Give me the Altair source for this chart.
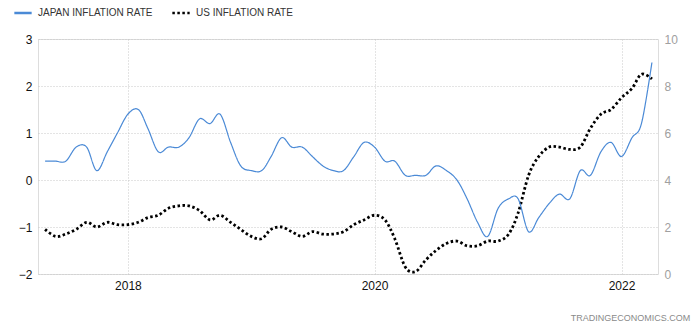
import altair as alt
import pandas as pd

series_names = ["JAPAN INFLATION RATE", "US INFLATION RATE"]
months = pd.date_range("2017-05-01", "2022-04-01", freq="MS").strftime("%Y-%m-%d").tolist()

japan = [0.4, 0.4, 0.4, 0.7, 0.7, 0.2, 0.6, 1.0,
         1.4, 1.5, 1.1, 0.6, 0.7, 0.7, 0.9, 1.3, 1.2, 1.4, 0.8, 0.3,
         0.2, 0.2, 0.5, 0.9, 0.7, 0.7, 0.5, 0.3, 0.2, 0.2, 0.5, 0.8,
         0.7, 0.4, 0.4, 0.1, 0.1, 0.1, 0.3, 0.2, 0.0, -0.4, -0.9, -1.2,
         -0.6, -0.4, -0.4, -1.1, -0.8, -0.5, -0.3, -0.4, 0.2, 0.1, 0.6, 0.8,
         0.5, 0.9, 1.2, 2.5]
us = [1.9, 1.6, 1.7, 1.9, 2.2, 2.0, 2.2, 2.1,
      2.1, 2.2, 2.4, 2.5, 2.8, 2.9, 2.9, 2.7, 2.3, 2.5, 2.2, 1.9,
      1.6, 1.5, 1.9, 2.0, 1.8, 1.6, 1.8, 1.7, 1.7, 1.8, 2.1, 2.3,
      2.5, 2.3, 1.5, 0.3, 0.1, 0.6, 1.0, 1.3, 1.4, 1.2, 1.2, 1.4,
      1.4, 1.7, 2.6, 4.2, 5.0, 5.4, 5.4, 5.3, 5.4, 6.2, 6.8, 7.0,
      7.5, 7.9, 8.5, 8.3]

left_ticks = [-2, -1, 0, 1, 2, 3]
right_ticks = [0, 2, 4, 6, 8, 10]
year_ticks = ["2018-01-01", "2020-01-01", "2022-01-01"]

df = pd.DataFrame({
    "date": months * 2,
    "value": japan + us,
    "series": [series_names[0]] * len(months) + [series_names[1]] * len(months),
})

x_enc = alt.X("date:T",
              scale=alt.Scale(domain=["2017-04-10", "2022-04-19"]),
              axis=alt.Axis(values=year_ticks, format="%Y", title=None,
                            domain=False, ticks=False, labelPadding=6,
                            labelFontSize=12, labelColor="#111",
                            labelFont="Liberation Sans",
                            grid=True, gridColor="#c8c8c8", gridDash=[1, 2]))

legend_props = dict(title=None, orient="none", legendX=-25, legendY=-36,
                    direction="horizontal", symbolType="stroke",
                    symbolSize=300, symbolStrokeWidth=2.5,
                    labelFontSize=10, labelColor="#333",
                    labelFont="Liberation Sans",
                    columnPadding=14, labelOffset=5)

color_enc = alt.Color("series:N",
                      scale=alt.Scale(domain=series_names, range=["#4b8ad6", "#000000"]),
                      legend=alt.Legend(**legend_props))
dash_enc = alt.StrokeDash("series:N",
                          scale=alt.Scale(domain=series_names, range=[[1, 0], [2.5, 2.5]]),
                          legend=alt.Legend(**legend_props))

japan_layer = alt.Chart(df).transform_filter(
    alt.datum.series == series_names[0]
).mark_line(interpolate="cardinal", strokeWidth=1.2).encode(
    x=x_enc,
    y=alt.Y("value:Q", scale=alt.Scale(domain=[-2, 3], nice=False),
            axis=alt.Axis(orient="left", values=left_ticks, title=None, domain=False,
                          ticks=False, labelPadding=6, labelFontSize=12,
                          labelColor="#111", labelFont="Liberation Sans",
                          grid=True, gridColor="#c8c8c8", gridDash=[1, 2])),
    color=color_enc,
    strokeDash=dash_enc,
)

us_layer = alt.Chart(df).transform_filter(
    alt.datum.series == series_names[1]
).mark_line(interpolate="cardinal", strokeWidth=2.8).encode(
    x=x_enc,
    y=alt.Y("value:Q", scale=alt.Scale(domain=[0, 10], nice=False),
            axis=alt.Axis(orient="right", values=right_ticks, title=None, domain=False,
                          ticks=False, labelPadding=6, labelFontSize=12,
                          labelColor="#a0a0a0", labelFont="Liberation Sans",
                          grid=False)),
    color=color_enc,
    strokeDash=dash_enc,
)

chart = alt.layer(us_layer, japan_layer).resolve_scale(y="independent").properties(
    width=620, height=235,
    padding={"left": 38, "top": 39, "right": 36, "bottom": 56},
    autosize=alt.AutoSizeParams(type="none"),
    title=alt.TitleParams("TRADINGECONOMICS.COM", orient="bottom", anchor="end",
                          fontSize=9, fontWeight="normal", color="#8a8a8a",
                          font="Liberation Sans", dx=13, offset=23),
).configure_view(stroke=None).configure(background="white")

chart.save("out.html", embed_options={"renderer": "svg", "actions": False})
